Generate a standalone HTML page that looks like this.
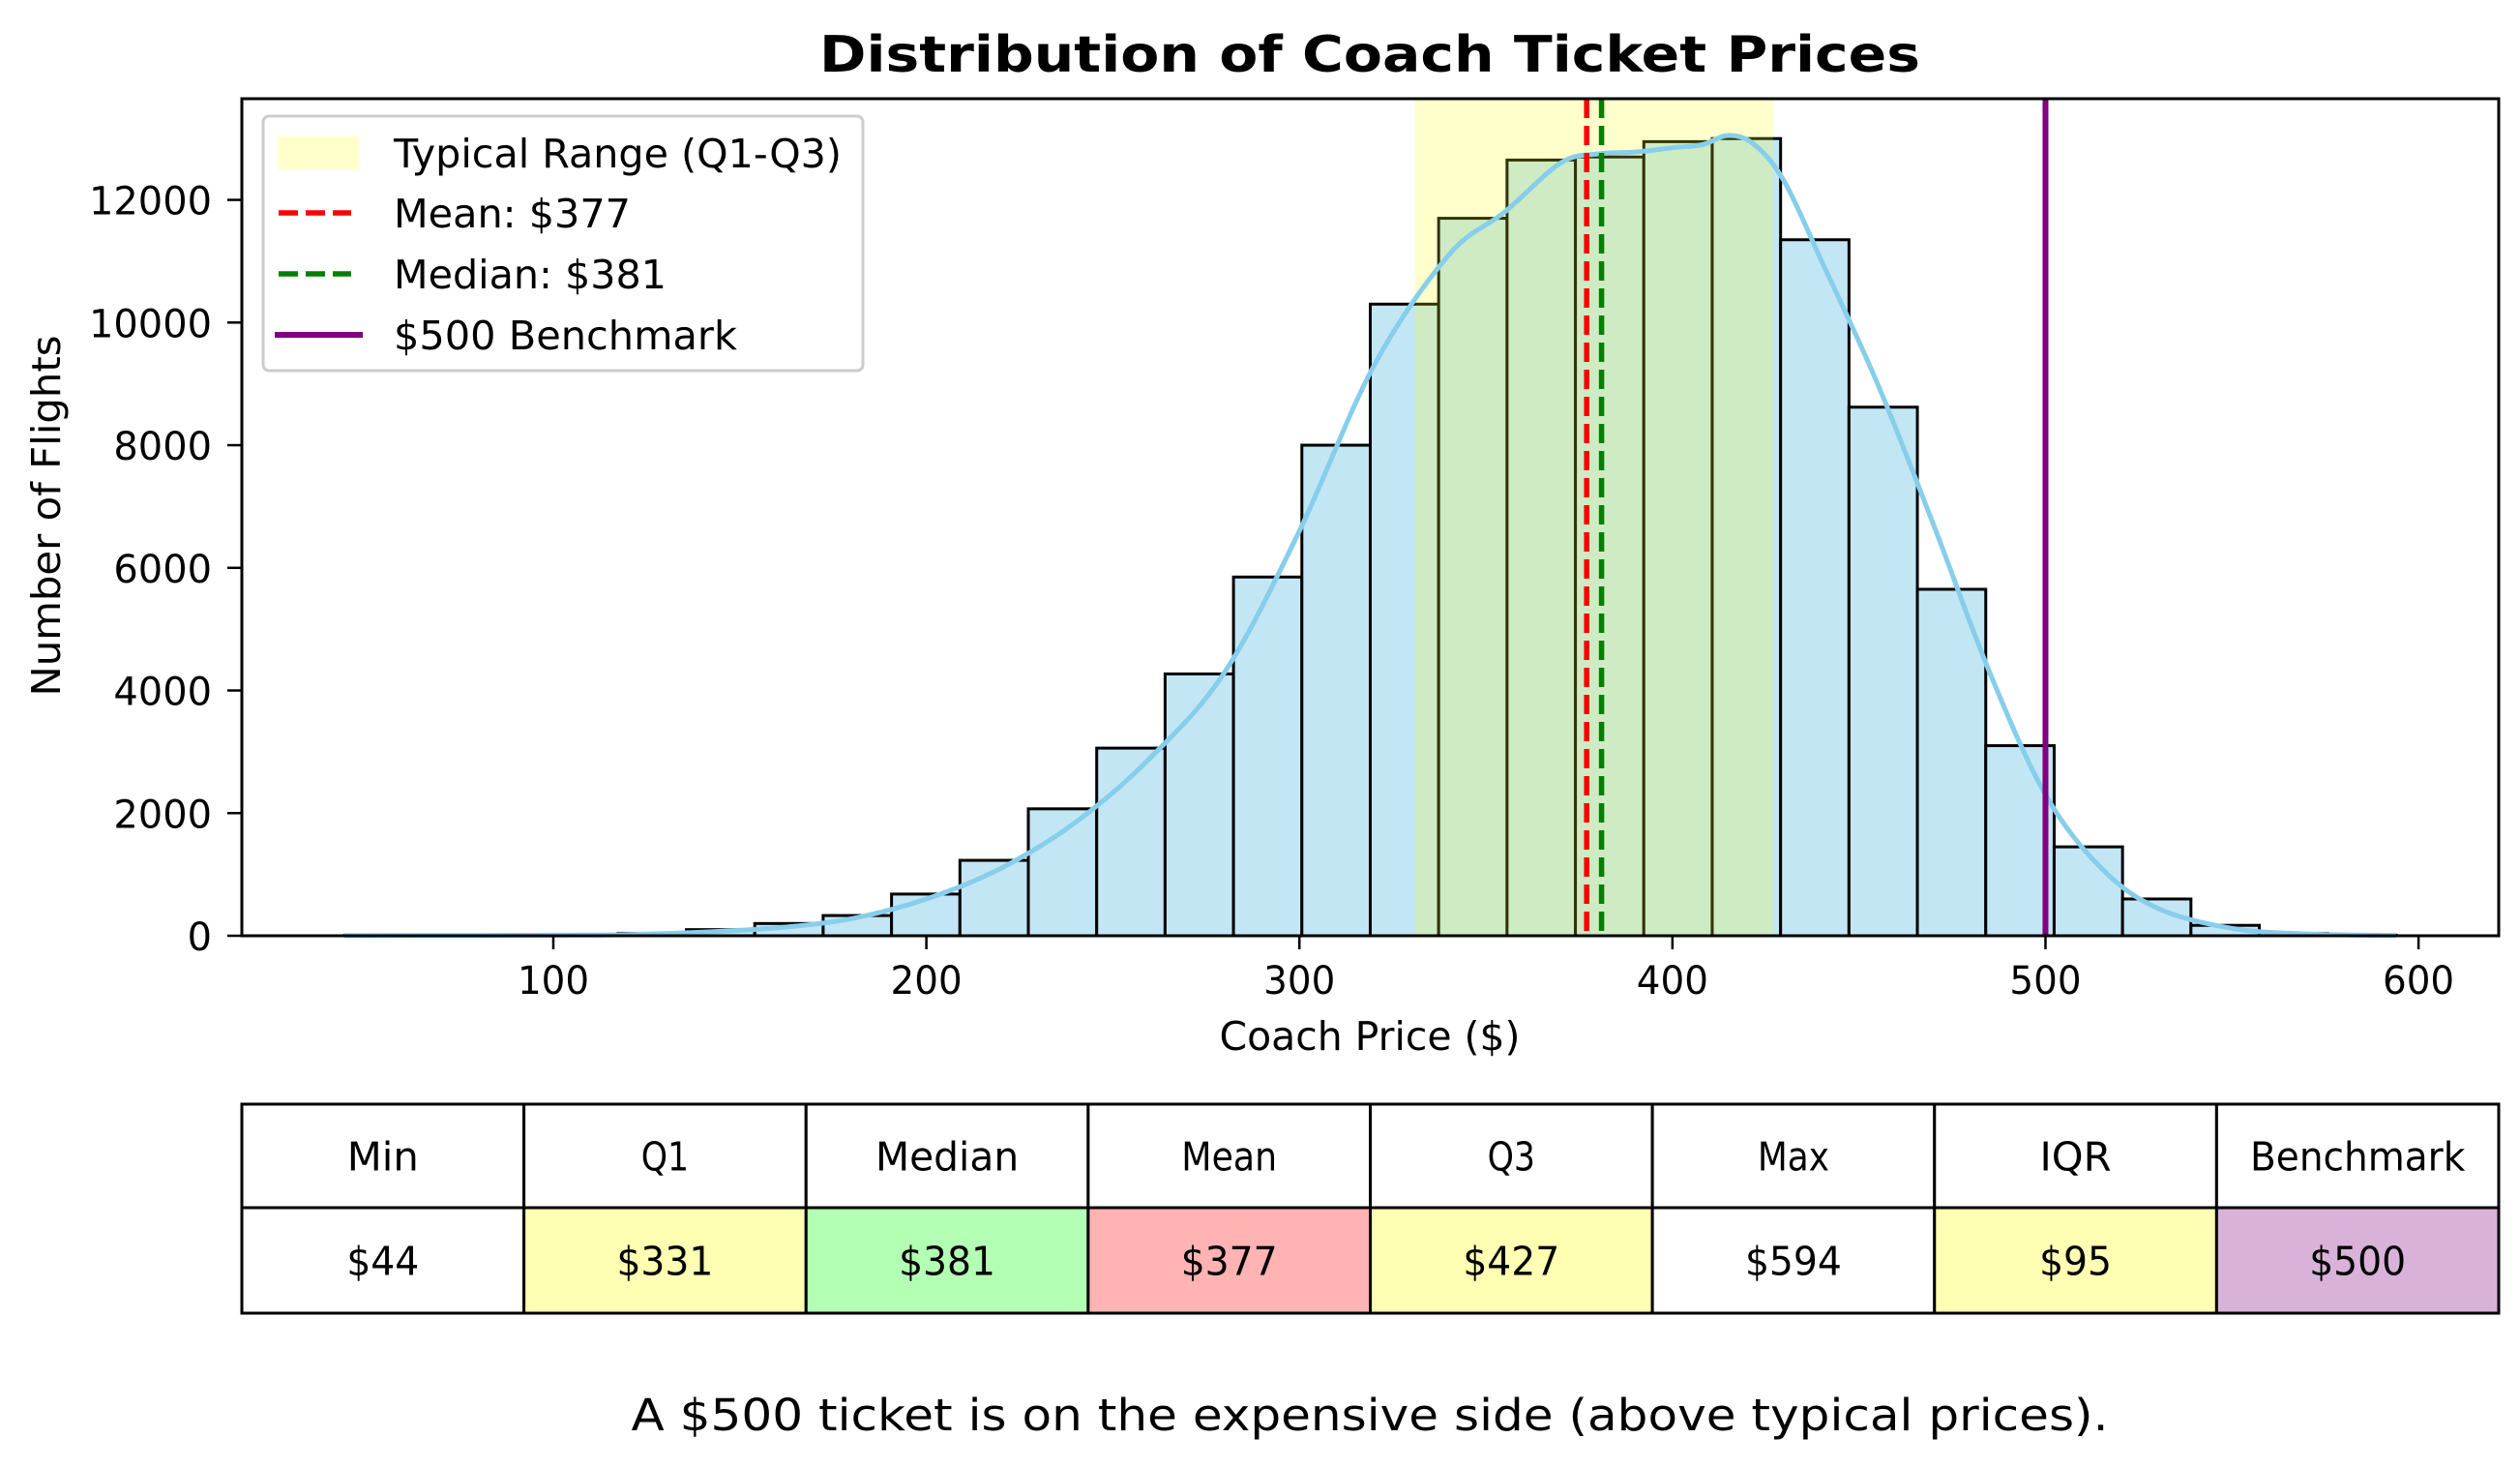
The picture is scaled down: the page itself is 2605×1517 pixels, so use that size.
<!DOCTYPE html>
<html><head><meta charset="utf-8">
<style>
html,body{margin:0;padding:0;background:#fff;}
svg{display:block;font-family:"DejaVu Sans","Liberation Sans",sans-serif;}
</style></head>
<body>
<svg id="chart" width="2605" height="1517" viewBox="0 0 2605 1517" xmlns="http://www.w3.org/2000/svg">
<rect width="2605" height="1517" fill="#fff"/>
<text x="1416" y="74" text-anchor="middle" font-size="52" font-weight="bold" textLength="1138" lengthAdjust="spacingAndGlyphs">Distribution of Coach Ticket Prices</text>
<g id="plot"></g>
<text transform="translate(62,533) rotate(-90)" text-anchor="middle" font-size="41" textLength="373" lengthAdjust="spacingAndGlyphs">Number of Flights</text>
<text x="1416" y="1085" text-anchor="middle" font-size="41" textLength="311" lengthAdjust="spacingAndGlyphs">Coach Price ($)</text>
<g id="table"></g>
<text x="1416" y="1478" text-anchor="middle" font-size="45" textLength="1527" lengthAdjust="spacingAndGlyphs">A $500 ticket is on the expensive side (above typical prices).</text>
</svg>
<script>
const binStart = 44;
const binWidth = 18.333;
const binCounts = [5,8,12,20,40,100,200,330,680,1230,2070,3060,4270,5850,8000,10300,11700,12650,12700,12950,13000,11350,8620,5650,3100,1450,600,170,40,10];
const kdeX = [44,80,100,120,140,160,180,200,220,240,260,280,300,320,340,355,370,380,390,400,408,415,422,430,440,455,470,485,500,515,530,550,570,594];
const kdeY = [2,5,10,20,60,130,280,600,1100,1850,2900,4300,6600,9300,11100,11800,12600,12750,12780,12850,12900,13050,12900,12300,11000,9000,6700,4300,2300,1100,450,120,30,5];
const xTicks = [100,200,300,400,500,600];
const yTicks = [0,2000,4000,6000,8000,10000,12000];
const q1 = 331, q3 = 427, meanVal = 377, medianVal = 381, bench = 500;
const tableHeaders = ["Min","Q1","Median","Mean","Q3","Max","IQR","Benchmark"];
const tableValues = ["$44","$331","$381","$377","$427","$594","$95","$500"];
const tableColors = ["#ffffff","#ffffb3","#b3ffb3","#ffb3b3","#ffffb3","#ffffff","#ffffb3","#d8b2d8"];

const NS="http://www.w3.org/2000/svg";
const L=250,R=2583,T=102,B=967;
const xMin=16.5,xMax=621.5,yMax=13650;
const sx=v=>L+(v-xMin)/(xMax-xMin)*(R-L);
const sy=v=>B-v/yMax*(B-T);
function mk(tag,attrs,parent){const e=document.createElementNS(NS,tag);for(const k in attrs)e.setAttribute(k,attrs[k]);parent.appendChild(e);return e;}
const plot=document.getElementById('plot');

binCounts.forEach((c,i)=>{
  const x0=sx(binStart+i*binWidth),x1=sx(binStart+(i+1)*binWidth);
  const r=mk('rect',{x:x0,y:sy(c),width:x1-x0,height:B-sy(c),fill:'#c3e6f5',stroke:'#000','stroke-width':3},plot);
  
  
});
const span=mk('rect',{x:sx(q1),y:T,width:sx(q3)-sx(q1),height:B-T,fill:'#ffff00','fill-opacity':0.2},plot);



const pts=kdeX.map((x,i)=>[sx(x),sy(kdeY[i])]);
let d='M'+pts[0][0].toFixed(1)+','+pts[0][1].toFixed(1);
for(let i=0;i<pts.length-1;i++){
  const p0=pts[Math.max(0,i-1)],p1=pts[i],p2=pts[i+1],p3=pts[Math.min(pts.length-1,i+2)];
  const c1=[p1[0]+(p2[0]-p0[0])/6,p1[1]+(p2[1]-p0[1])/6];
  const c2=[p2[0]-(p3[0]-p1[0])/6,p2[1]-(p3[1]-p1[1])/6];
  d+='C'+c1.map(v=>v.toFixed(1)).join(',')+' '+c2.map(v=>v.toFixed(1)).join(',')+' '+p2.map(v=>v.toFixed(1)).join(',');
}
const kde=mk('path',{d:d,fill:'none',stroke:'#87ceeb','stroke-width':5,'stroke-linejoin':'round'},plot);



const mline=mk('line',{x1:sx(meanVal),x2:sx(meanVal),y1:T,y2:B,stroke:'#ff0000','stroke-width':5.5,'stroke-dasharray':'20,8'},plot);


const mdline=mk('line',{x1:sx(medianVal),x2:sx(medianVal),y1:T,y2:B,stroke:'#008000','stroke-width':5.5,'stroke-dasharray':'20,8'},plot);


const bline=mk('line',{x1:sx(bench),x2:sx(bench),y1:T,y2:B,stroke:'#800080','stroke-width':6},plot);



const frame=mk('rect',{x:L,y:T,width:R-L,height:B-T,fill:'none',stroke:'#000','stroke-width':3},plot);



xTicks.forEach(v=>{
  mk('line',{x1:sx(v),x2:sx(v),y1:B,y2:B+14,stroke:'#000','stroke-width':2.5},plot);
  const s=String(v);
  const t=mk('text',{x:sx(v),y:1027,'text-anchor':'middle','font-size':40,textLength:s.length*24.7,lengthAdjust:'spacingAndGlyphs'},plot);
  t.textContent=s;
  
  
});
yTicks.forEach(v=>{
  mk('line',{x1:L-15,x2:L,y1:sy(v),y2:sy(v),stroke:'#000','stroke-width':2.5},plot);
  const s=String(v);
  const t=mk('text',{x:219,y:sy(v)+15,'text-anchor':'end','font-size':40,textLength:s.length*25.4,lengthAdjust:'spacingAndGlyphs'},plot);
  t.textContent=s;
  
  
});

// legend
const lg=mk('g',{},plot);


mk('rect',{x:272,y:120,width:620,height:263,rx:6,fill:'#fff','fill-opacity':0.85,stroke:'#cccccc','stroke-width':3},lg);
const items=[
 {t:'Typical Range (Q1-Q3)',y:158,type:'patch',w:463},
 {t:'Mean: $377',y:220,type:'dash',c:'#ff0000',w:245},
 {t:'Median: $381',y:283,type:'dash',c:'#008000',w:282},
 {t:'$500 Benchmark',y:346,type:'solid',c:'#800080',w:355}];
items.forEach(it=>{
  if(it.type==='patch') mk('rect',{x:287,y:it.y-17,width:84,height:34,fill:'#ffffcc'},lg);
  else if(it.type==='dash') mk('line',{x1:288,x2:363,y1:it.y,y2:it.y,stroke:it.c,'stroke-width':5.5,'stroke-dasharray':'20,8'},lg);
  else mk('line',{x1:284,x2:375,y1:it.y,y2:it.y,stroke:it.c,'stroke-width':6},lg);
  const t=mk('text',{x:407,y:it.y+15,'font-size':41,textLength:it.w,lengthAdjust:'spacingAndGlyphs'},lg);
  t.textContent=it.t;
  
  
});

// table
const tb=document.getElementById('table');
const TL=250,TR=2583,R1=1141,R2=1248,R3=1357;
const cw=(TR-TL)/tableHeaders.length;
tableHeaders.forEach((h,i)=>{
  const x=TL+i*cw;
  mk('rect',{x:x,y:R1,width:cw,height:R2-R1,fill:'#fff',stroke:'#000','stroke-width':3},tb);
  mk('rect',{x:x,y:R2,width:cw,height:R3-R2,fill:tableColors[i],stroke:'#000','stroke-width':3},tb);
  const a=mk('text',{x:x+cw/2,y:(R1+R2)/2+15,'text-anchor':'middle','font-size':41,textLength:h.length*24.7,lengthAdjust:'spacingAndGlyphs'},tb);
  a.textContent=h;
  
  
  const b=mk('text',{x:x+cw/2,y:(R2+R3)/2+15,'text-anchor':'middle','font-size':41,textLength:tableValues[i].length*25,lengthAdjust:'spacingAndGlyphs'},tb);
  b.textContent=tableValues[i];
  
  
});
</script>
</body></html>
